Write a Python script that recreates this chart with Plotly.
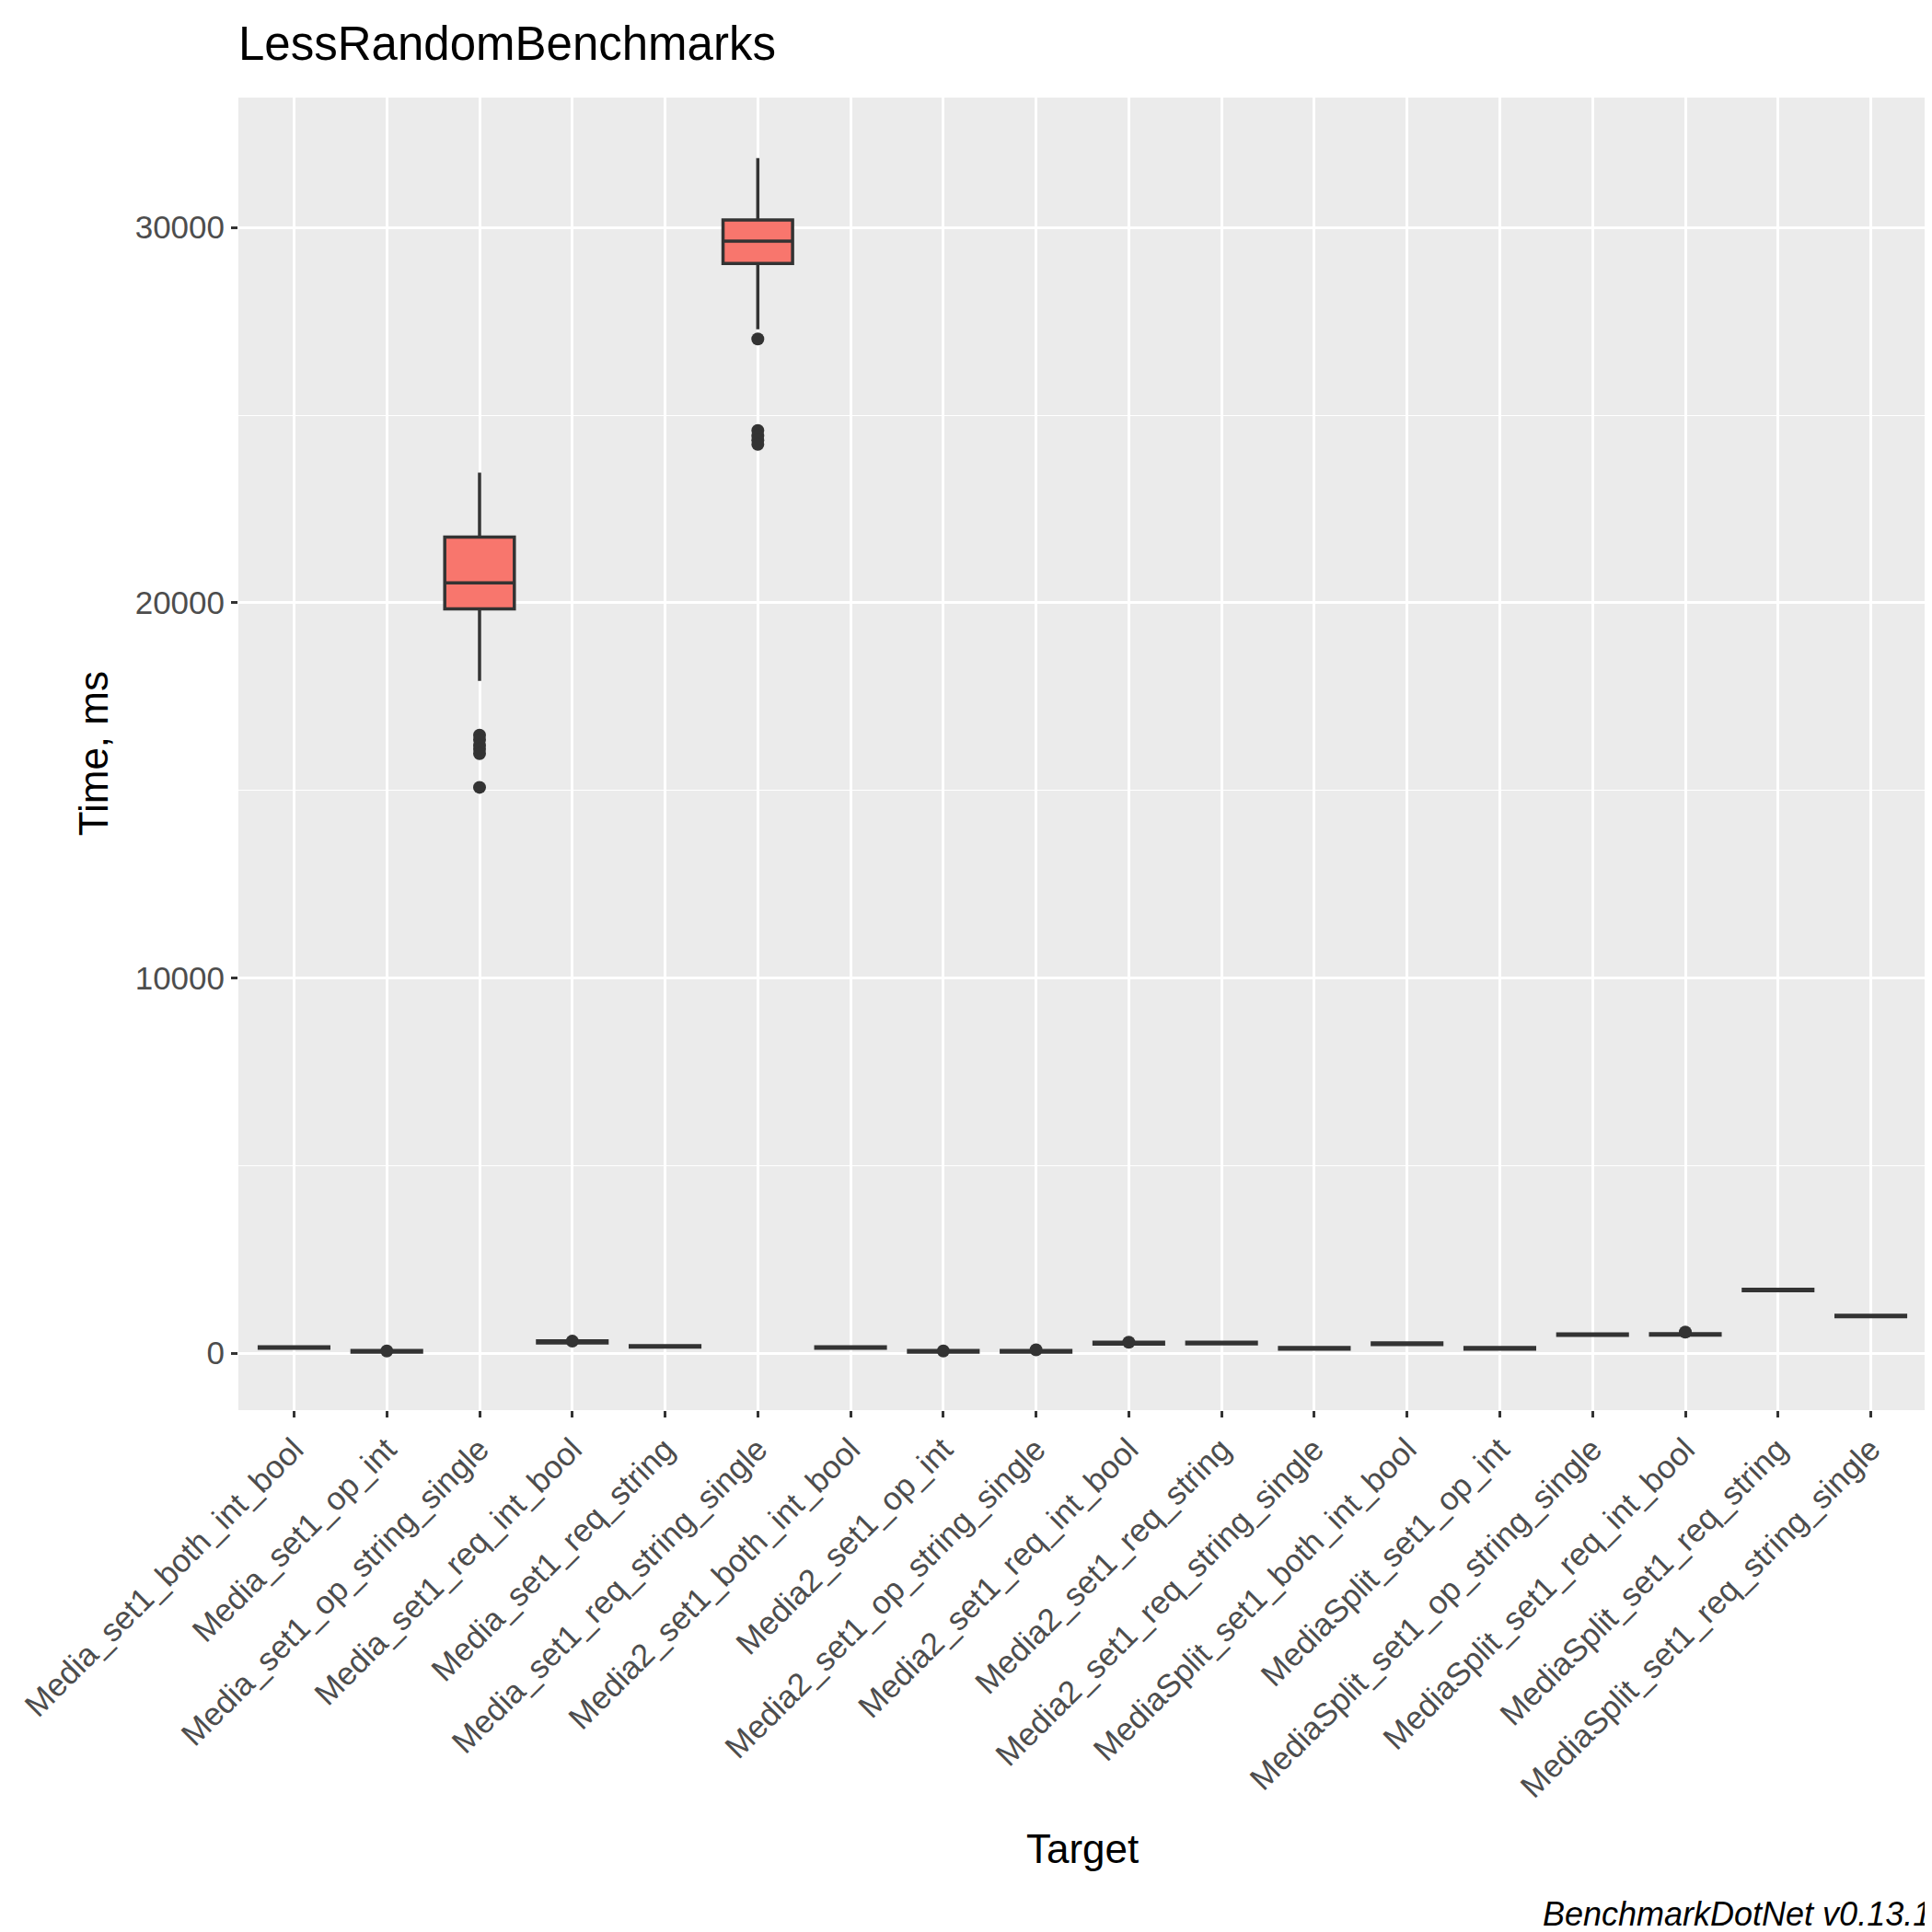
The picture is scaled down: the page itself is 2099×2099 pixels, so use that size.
import plotly.graph_objects as go

targets = [
    "Media_set1_both_int_bool", "Media_set1_op_int", "Media_set1_op_string_single",
    "Media_set1_req_int_bool", "Media_set1_req_string", "Media_set1_req_string_single",
    "Media2_set1_both_int_bool", "Media2_set1_op_int", "Media2_set1_op_string_single",
    "Media2_set1_req_int_bool", "Media2_set1_req_string", "Media2_set1_req_string_single",
    "MediaSplit_set1_both_int_bool", "MediaSplit_set1_op_int", "MediaSplit_set1_op_string_single",
    "MediaSplit_set1_req_int_bool", "MediaSplit_set1_req_string", "MediaSplit_set1_req_string_single",
]
medians = [150, 50, 20530, 300, 180, 29640, 150, 50, 50, 260, 270, 130, 250, 130, 495, 500, 1683, 990]
q1s = [130, 30, 19840, 270, 160, 29040, 130, 30, 30, 240, 250, 110, 230, 110, 475, 480, 1665, 970]
q3s = [170, 70, 21750, 330, 200, 30200, 170, 70, 70, 290, 290, 150, 270, 150, 515, 520, 1700, 1010]
lows = [110, 10, 17920, 250, 140, 27290, 110, 10, 10, 220, 230, 90, 210, 90, 455, 460, 1650, 950]
highs = [190, 90, 23470, 350, 220, 31850, 190, 90, 90, 310, 310, 170, 290, 170, 535, 540, 1715, 1030]

outlier_x = ([targets[1]] + [targets[2]] * 6 + [targets[3]] + [targets[5]] * 5
             + [targets[7], targets[8], targets[9], targets[15]])
outlier_y = ([60] + [16470, 16350, 16200, 16100, 15980, 15080] + [320]
             + [27030, 24590, 24450, 24330, 24220] + [60, 90, 290, 560])

y_ticks = [0, 10000, 20000, 30000]
y_labels = ["0", "10000", "20000", "30000"]

font = "Liberation Sans, Arial, sans-serif"

fig = go.Figure()
fig.add_trace(go.Box(
    x=targets, q1=q1s, median=medians, q3=q3s, lowerfence=lows, upperfence=highs,
    fillcolor="#F8766D", line=dict(color="#333333", width=3.5), width=0.75,
    whiskerwidth=0, boxpoints=False, hoverinfo="skip",
))
fig.add_trace(go.Scatter(
    x=outlier_x, y=outlier_y, mode="markers",
    marker=dict(color="#333333", size=14),
))

fig.update_layout(
    width=2099, height=2099, showlegend=False,
    paper_bgcolor="white", plot_bgcolor="#EBEBEB",
    margin=dict(l=205, r=14, t=98, b=575),
    font=dict(family=font, color="#4D4D4D"),
    title=dict(text="LessRandomBenchmarks", x=0, xref="paper", y=0.99, yref="container",
               yanchor="top", font=dict(size=51, color="black")),
    annotations=[
        dict(text="Target", x=0.5, y=-0.334, xref="paper", yref="paper", showarrow=False,
             yanchor="middle", font=dict(size=44, color="black")),
        dict(text="Time, ms", x=-0.086, y=0.5, xref="paper", yref="paper", showarrow=False,
             textangle=-90, xanchor="center", font=dict(size=44, color="black")),
        dict(text="<i>BenchmarkDotNet v0.13.1</i>", x=1.004, y=-0.40, xref="paper", yref="paper",
             showarrow=False, xanchor="right", yanchor="bottom", font=dict(size=36, color="black")),
    ],
)
fig.update_xaxes(
    type="category", categoryorder="array", categoryarray=targets,
    range=[-0.6, 17.6],
    tickangle=-45, tickfont=dict(size=35, color="#4D4D4D"),
    showgrid=True, gridcolor="white", gridwidth=2.7, zeroline=False,
    ticks="outside", ticklen=7, tickwidth=2.7, tickcolor="#333333", showline=False,
)
fig.update_yaxes(
    range=[-1518, 33465], tickvals=y_ticks, ticktext=y_labels,
    tickfont=dict(size=35, color="#4D4D4D"),
    showgrid=True, gridcolor="white", gridwidth=2.7, zeroline=False,
    minor=dict(tickvals=[5000, 15000, 25000], showgrid=True, gridcolor="white", gridwidth=1.3),
    ticks="outside", ticklen=7, tickwidth=2.7, tickcolor="#333333", showline=False,
)

fig.write_html("out.html")
